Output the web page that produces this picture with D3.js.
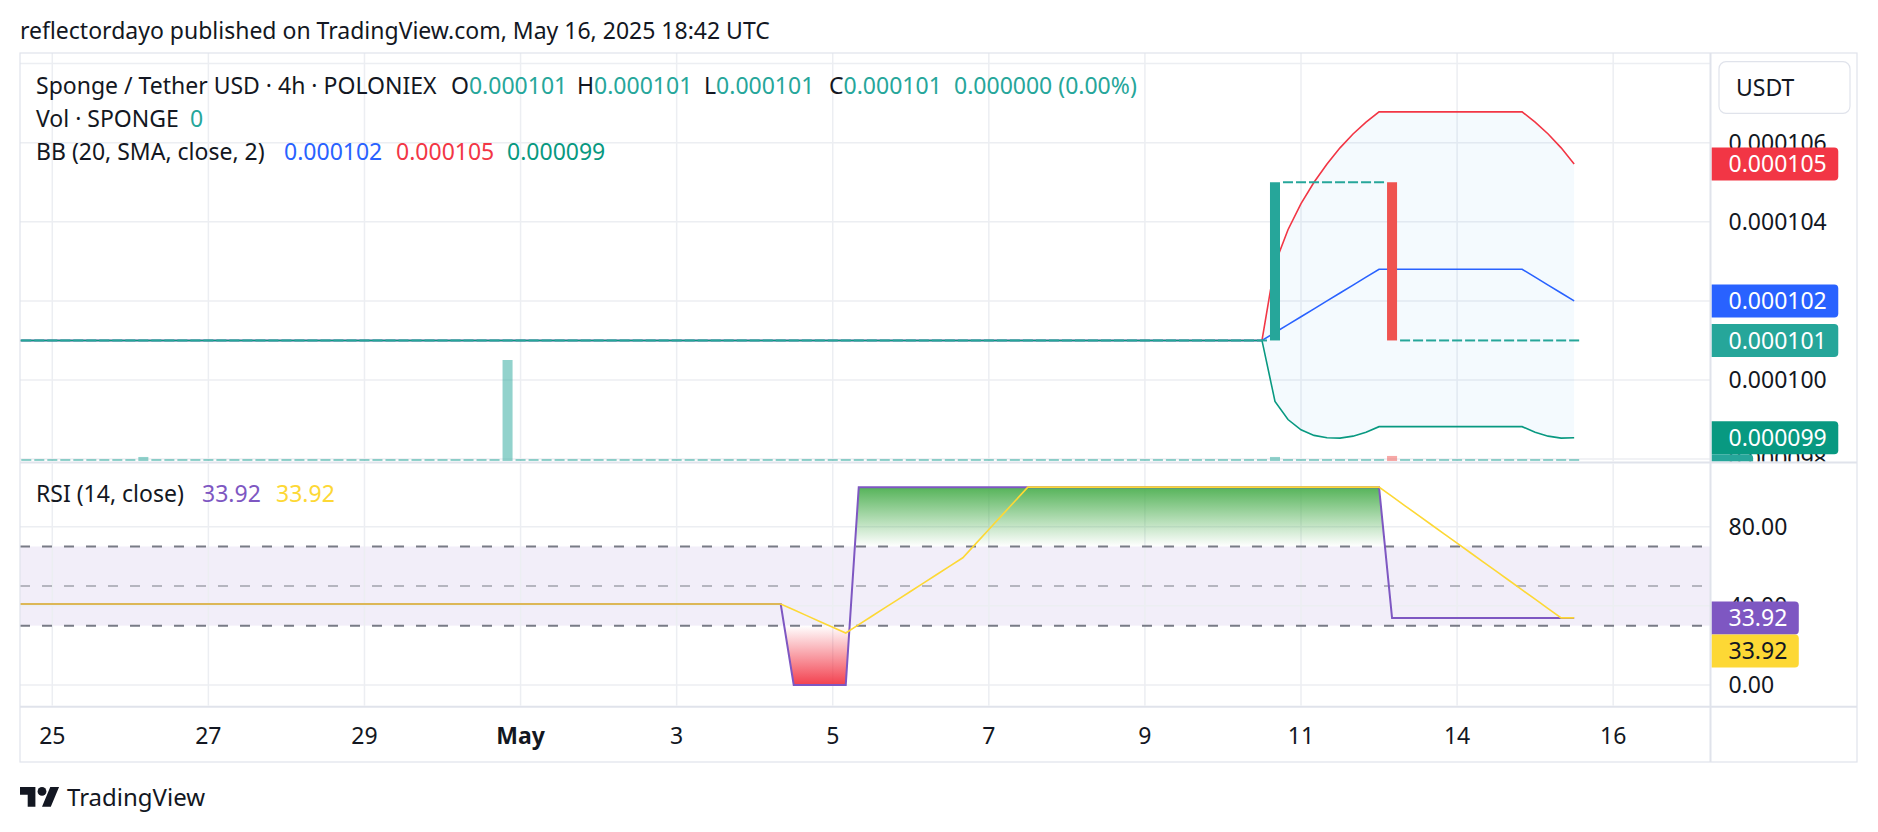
<!DOCTYPE html>
<html>
<head>
<meta charset="utf-8">
<title>Sponge / Tether USD · 4h · POLONIEX</title>
<script src="https://cdn.jsdelivr.net/npm/d3@7/dist/d3.min.js"></script>
<style>
  html, body { margin: 0; padding: 0; background: #ffffff; }
  svg { display: block; }
  text { font-family: "Noto Sans", "Open Sans", sans-serif; }
</style>
</head>
<body>
<svg id="chart" width="1878" height="832"></svg>
<script>
// ================= DATA =================
const publishedText = "reflectordayo published on TradingView.com, May 16, 2025 18:42 UTC";
const symbolTitle = "Sponge / Tether USD · 4h · POLONIEX";
const volumeTitle = "Vol · SPONGE";
const bbTitle = "BB (20, SMA, close, 2)";
const rsiTitle = "RSI (14, close)";
const currencyLabel = "USDT";
const brandText = "TradingView";

// bar index of the first element of every series (index 0 = Apr 25 00:00, 4h bars)
const firstBarIndex = -3;

const openPrice = [
0.000101,0.000101,0.000101,0.000101,0.000101,0.000101,0.000101,0.000101,0.000101,0.000101,
0.000101,0.000101,0.000101,0.000101,0.000101,0.000101,0.000101,0.000101,0.000101,0.000101,
0.000101,0.000101,0.000101,0.000101,0.000101,0.000101,0.000101,0.000101,0.000101,0.000101,
0.000101,0.000101,0.000101,0.000101,0.000101,0.000101,0.000101,0.000101,0.000101,0.000101,
0.000101,0.000101,0.000101,0.000101,0.000101,0.000101,0.000101,0.000101,0.000101,0.000101,
0.000101,0.000101,0.000101,0.000101,0.000101,0.000101,0.000101,0.000101,0.000101,0.000101,
0.000101,0.000101,0.000101,0.000101,0.000101,0.000101,0.000101,0.000101,0.000101,0.000101,
0.000101,0.000101,0.000101,0.000101,0.000101,0.000101,0.000101,0.000101,0.000101,0.000101,
0.000101,0.000101,0.000101,0.000101,0.000101,0.000101,0.000101,0.000101,0.000101,0.000101,
0.000101,0.000101,0.000101,0.000101,0.000101,0.000101,0.000101,0.000101,
0.000105,0.000105,0.000105,0.000105,0.000105,0.000105,0.000105,0.000105,0.000105,
0.000101,0.000101,0.000101,0.000101,0.000101,0.000101,0.000101,0.000101,0.000101,0.000101,
0.000101,0.000101,0.000101,0.000101
];

const closePrice = [
0.000101,0.000101,0.000101,0.000101,0.000101,0.000101,0.000101,0.000101,0.000101,0.000101,
0.000101,0.000101,0.000101,0.000101,0.000101,0.000101,0.000101,0.000101,0.000101,0.000101,
0.000101,0.000101,0.000101,0.000101,0.000101,0.000101,0.000101,0.000101,0.000101,0.000101,
0.000101,0.000101,0.000101,0.000101,0.000101,0.000101,0.000101,0.000101,0.000101,0.000101,
0.000101,0.000101,0.000101,0.000101,0.000101,0.000101,0.000101,0.000101,0.000101,0.000101,
0.000101,0.000101,0.000101,0.000101,0.000101,0.000101,0.000101,0.000101,0.000101,0.000101,
0.000101,0.000101,0.000101,0.000101,0.000101,0.000101,0.000101,0.000101,0.000101,0.000101,
0.000101,0.000101,0.000101,0.000101,0.000101,0.000101,0.000101,0.000101,0.000101,0.000101,
0.000101,0.000101,0.000101,0.000101,0.000101,0.000101,0.000101,0.000101,0.000101,0.000101,
0.000101,0.000101,0.000101,0.000101,0.000101,0.000101,0.000101,
0.000105,0.000105,0.000105,0.000105,0.000105,0.000105,0.000105,0.000105,0.000105,
0.000101,0.000101,0.000101,0.000101,0.000101,0.000101,0.000101,0.000101,0.000101,0.000101,
0.000101,0.000101,0.000101,0.000101,0.000101
];

const volume = [
0,0,0,0,0,0,0,0,0,0,
40,0,0,0,0,0,0,0,0,0,
0,0,0,0,0,0,0,0,0,0,
0,0,0,0,0,0,0,0,1000,0,
0,0,0,0,0,0,0,0,0,0,
0,0,0,0,0,0,0,0,0,0,
0,0,0,0,0,0,0,0,0,0,
0,0,0,0,0,0,0,0,0,0,
0,0,0,0,0,0,0,0,0,0,
0,0,0,0,0,0,0,40,0,0,
0,0,0,0,0,0,50,0,0,0,
0,0,0,0,0,0,0,0,0,0,
0
];

const bbBasis = [
0.000101,0.000101,0.000101,0.000101,0.000101,0.000101,0.000101,0.000101,0.000101,0.000101,
0.000101,0.000101,0.000101,0.000101,0.000101,0.000101,0.000101,0.000101,0.000101,0.000101,
0.000101,0.000101,0.000101,0.000101,0.000101,0.000101,0.000101,0.000101,0.000101,0.000101,
0.000101,0.000101,0.000101,0.000101,0.000101,0.000101,0.000101,0.000101,0.000101,0.000101,
0.000101,0.000101,0.000101,0.000101,0.000101,0.000101,0.000101,0.000101,0.000101,0.000101,
0.000101,0.000101,0.000101,0.000101,0.000101,0.000101,0.000101,0.000101,0.000101,0.000101,
0.000101,0.000101,0.000101,0.000101,0.000101,0.000101,0.000101,0.000101,0.000101,0.000101,
0.000101,0.000101,0.000101,0.000101,0.000101,0.000101,0.000101,0.000101,0.000101,0.000101,
0.000101,0.000101,0.000101,0.000101,0.000101,0.000101,0.000101,0.000101,0.000101,0.000101,
0.000101,0.000101,0.000101,0.000101,0.000101,0.000101,0.000101,
0.0001012,0.0001014,0.0001016,0.0001018,0.000102,0.0001022,0.0001024,0.0001026,
0.0001028,0.0001028,0.0001028,0.0001028,0.0001028,0.0001028,0.0001028,0.0001028,0.0001028,0.0001028,
0.0001028,0.0001028,
0.0001026,0.0001024,0.0001022,0.000102
];

const bbUpper = [
0.000101,0.000101,0.000101,0.000101,0.000101,0.000101,0.000101,0.000101,0.000101,0.000101,
0.000101,0.000101,0.000101,0.000101,0.000101,0.000101,0.000101,0.000101,0.000101,0.000101,
0.000101,0.000101,0.000101,0.000101,0.000101,0.000101,0.000101,0.000101,0.000101,0.000101,
0.000101,0.000101,0.000101,0.000101,0.000101,0.000101,0.000101,0.000101,0.000101,0.000101,
0.000101,0.000101,0.000101,0.000101,0.000101,0.000101,0.000101,0.000101,0.000101,0.000101,
0.000101,0.000101,0.000101,0.000101,0.000101,0.000101,0.000101,0.000101,0.000101,0.000101,
0.000101,0.000101,0.000101,0.000101,0.000101,0.000101,0.000101,0.000101,0.000101,0.000101,
0.000101,0.000101,0.000101,0.000101,0.000101,0.000101,0.000101,0.000101,0.000101,0.000101,
0.000101,0.000101,0.000101,0.000101,0.000101,0.000101,0.000101,0.000101,0.000101,0.000101,
0.000101,0.000101,0.000101,0.000101,0.000101,0.000101,0.000101,
0.00010294,0.0001038,0.00010446,0.000105,0.00010546,0.00010587,0.00010622,0.00010652,
0.00010678,0.00010678,0.00010678,0.00010678,0.00010678,0.00010678,0.00010678,0.00010678,0.00010678,0.00010678,
0.00010678,0.00010678,
0.00010652,0.00010622,0.00010587,0.00010546
];

const bbLower = [
0.000101,0.000101,0.000101,0.000101,0.000101,0.000101,0.000101,0.000101,0.000101,0.000101,
0.000101,0.000101,0.000101,0.000101,0.000101,0.000101,0.000101,0.000101,0.000101,0.000101,
0.000101,0.000101,0.000101,0.000101,0.000101,0.000101,0.000101,0.000101,0.000101,0.000101,
0.000101,0.000101,0.000101,0.000101,0.000101,0.000101,0.000101,0.000101,0.000101,0.000101,
0.000101,0.000101,0.000101,0.000101,0.000101,0.000101,0.000101,0.000101,0.000101,0.000101,
0.000101,0.000101,0.000101,0.000101,0.000101,0.000101,0.000101,0.000101,0.000101,0.000101,
0.000101,0.000101,0.000101,0.000101,0.000101,0.000101,0.000101,0.000101,0.000101,0.000101,
0.000101,0.000101,0.000101,0.000101,0.000101,0.000101,0.000101,0.000101,0.000101,0.000101,
0.000101,0.000101,0.000101,0.000101,0.000101,0.000101,0.000101,0.000101,0.000101,0.000101,
0.000101,0.000101,0.000101,0.000101,0.000101,0.000101,0.000101,
0.00009946,0.000099,0.00009874,0.0000986,0.00009854,0.00009853,0.00009858,0.00009868,
0.00009882,0.00009882,0.00009882,0.00009882,0.00009882,0.00009882,0.00009882,0.00009882,0.00009882,0.00009882,
0.00009882,0.00009882,
0.00009868,0.00009858,0.00009853,0.00009854
];

const rsiValues = [
40.9,40.9,40.9,40.9,40.9,40.9,40.9,40.9,40.9,40.9,
40.9,40.9,40.9,40.9,40.9,40.9,40.9,40.9,40.9,40.9,
40.9,40.9,40.9,40.9,40.9,40.9,40.9,40.9,40.9,40.9,
40.9,40.9,40.9,40.9,40.9,40.9,40.9,40.9,40.9,40.9,
40.9,40.9,40.9,40.9,40.9,40.9,40.9,40.9,40.9,40.9,
40.9,40.9,40.9,40.9,40.9,40.9,40.9,40.9,40.9,40.9,
0,0,0,0,0,
100,100,100,100,100,100,100,100,100,100,
100,100,100,100,100,100,100,100,100,100,
100,100,100,100,100,100,100,100,100,100,
100,100,100,100,100,100,100,100,100,100,
100,
33.92,33.92,33.92,33.92,33.92,33.92,33.92,33.92,33.92,33.92,
33.92,33.92,33.92,33.92,33.92
];

const rsiMA = [
40.9,40.9,40.9,40.9,40.9,40.9,40.9,40.9,40.9,40.9,
40.9,40.9,40.9,40.9,40.9,40.9,40.9,40.9,40.9,40.9,
40.9,40.9,40.9,40.9,40.9,40.9,40.9,40.9,40.9,40.9,
40.9,40.9,40.9,40.9,40.9,40.9,40.9,40.9,40.9,40.9,
40.9,40.9,40.9,40.9,40.9,40.9,40.9,40.9,40.9,40.9,
40.9,40.9,40.9,40.9,40.9,40.9,40.9,40.9,40.9,40.9,
37.98,35.06,32.14,29.21,26.29,30.51,34.74,38.96,43.18,47.40,
51.62,55.84,60.06,64.29,71.43,78.57,85.71,92.86,
100,100,100,100,100,100,100,100,100,100,
100,100,100,100,100,100,100,100,100,100,
100,100,100,100,100,100,100,100,
95.28,90.56,85.84,81.12,76.40,71.68,66.96,62.24,57.52,52.80,
48.08,43.36,38.64,33.92,33.92
];

// axis ticks
const timeTickBars   = [0, 12, 24, 36, 48, 60, 72, 84, 96, 108, 120];
const timeTickLabels = ["25", "27", "29", "May", "3", "5", "7", "9", "11", "14", "16"];
const priceGridValues  = [0.000098, 0.000100, 0.000102, 0.000104, 0.000106, 0.000108];
const priceLabelValues = [0.000098, 0.000100, 0.000102, 0.000104, 0.000106];
const rsiGridValues = [0, 40, 80];
const rsiBandLevels = [70, 50, 30];

// ================= LAYOUT / STYLE =================
const LAY = {
  left: 20, right: 1857, top: 53, bottom: 762,
  axisX: 1710.5,
  mainTop: 53, mainBottom: 461.5,
  sepMain: 462.5,
  rsiTop: 463.5, rsiBottom: 705.7,
  sepTime: 706.7,
  labelX: 1728.5, boxLeft: 1711.5, boxH: 33, boxPadR: 11.5
};
const COL = {
  text: "#131722", up: "#26a69a", down: "#ef5350", grid: "#eceef2", sep: "#e0e3eb",
  basis: "#2962ff", upper: "#f23645", lower: "#089981",
  bbFill: "rgba(33,150,243,0.05)",
  rsi: "#7e57c2", rsiMA: "#fdd835", band: "rgba(126,87,194,0.1)",
  hline: "#787b86", hlineMid: "rgba(120,123,134,0.5)",
  obColor: "#4caf50", osColor: "#f23645"
};
const FS = 23;

// ================= DRAWING =================
const svg = d3.select("#chart");
const fmtP = d3.format(".6f");
const fmtR = d3.format(".2f");

const bars = closePrice.map((c, k) => ({
  i: firstBarIndex + k, o: openPrice[k], c: c, v: volume[k],
  up: bbUpper[k], mid: bbBasis[k], lo: bbLower[k], r: rsiValues[k], ma: rsiMA[k]
}));
const last = bars[bars.length - 1];
const prev = bars[bars.length - 2];

// scales (calibrated to the reference layout)
const x  = d3.scaleLinear().domain([0, 96]).range([52.3, 1301]);
const yP = d3.scaleLinear().domain([0.000100, 0.000104]).range([380, 221.8]);
const yR = d3.scaleLinear().domain([0, 80]).range([685, 526.7]);
const yV = d3.scaleLinear().domain([0, d3.max(volume)]).range([LAY.mainBottom - 0.5, 360]);
const step = x(1) - x(0);
const bodyW = step * 0.77;

svg.append("rect").attr("width", 1878).attr("height", 832).attr("fill", "#fff");

const defs = svg.append("defs");
function clip(id, x0, y0, x1, y1) {
  defs.append("clipPath").attr("id", id).append("rect")
    .attr("x", x0).attr("y", y0).attr("width", x1 - x0).attr("height", y1 - y0);
}
clip("cMain", LAY.left, LAY.mainTop, LAY.axisX, LAY.mainBottom);
clip("cRsi", LAY.left, LAY.rsiTop, LAY.axisX, LAY.rsiBottom);
clip("cMainAxis", LAY.axisX, LAY.mainTop, LAY.right, LAY.mainBottom);
clip("cRsiAxis", LAY.axisX, LAY.rsiTop, LAY.right, LAY.rsiBottom);

const grad = defs.append("linearGradient").attr("id", "rsiGrad")
  .attr("gradientUnits", "userSpaceOnUse")
  .attr("x1", 0).attr("x2", 0).attr("y1", yR(100)).attr("y2", yR(0));
[[0, COL.obColor, 0.95], [0.3, COL.obColor, 0], [0.7, COL.osColor, 0], [1, COL.osColor, 0.95]]
  .forEach(s => grad.append("stop").attr("offset", s[0]).attr("stop-color", s[1]).attr("stop-opacity", s[2]));

// title
svg.append("text").attr("x", 20).attr("y", 38.5).attr("font-size", FS).attr("fill", COL.text)
  .text(publishedText);

// ---------- main pane ----------
const gMain = svg.append("g").attr("clip-path", "url(#cMain)");
const ticksVisible = timeTickBars.map((b, k) => ({ b, label: timeTickLabels[k] }))
  .filter(t => x(t.b) > LAY.left && x(t.b) < LAY.axisX);

gMain.selectAll("line.vg").data(ticksVisible).join("line")
  .attr("x1", d => x(d.b)).attr("x2", d => x(d.b))
  .attr("y1", LAY.mainTop).attr("y2", LAY.mainBottom)
  .attr("stroke", COL.grid).attr("stroke-width", 1.5);
gMain.selectAll("line.hg").data(priceGridValues).join("line")
  .attr("x1", LAY.left).attr("x2", LAY.axisX)
  .attr("y1", d => yP(d)).attr("y2", d => yP(d))
  .attr("stroke", COL.grid).attr("stroke-width", 1.5);

// BB background
gMain.append("path").datum(bars)
  .attr("d", d3.area().x(d => x(d.i)).y0(d => yP(d.lo)).y1(d => yP(d.up)))
  .attr("fill", COL.bbFill);

// volume
gMain.selectAll("rect.vol").data(bars).join("rect")
  .attr("x", d => x(d.i) - bodyW / 2).attr("width", bodyW)
  .attr("y", d => Math.min(yV(d.v), yV(0) - 2))
  .attr("height", d => Math.max(2, yV(0) - yV(d.v)))
  .attr("fill", d => d.c >= d.o ? COL.up : COL.down)
  .attr("fill-opacity", 0.5);

// BB lines
[["up", COL.upper], ["mid", COL.basis], ["lo", COL.lower]].forEach(([k, c]) => {
  gMain.append("path").datum(bars)
    .attr("d", d3.line().x(d => x(d.i)).y(d => yP(d[k])))
    .attr("fill", "none").attr("stroke", c).attr("stroke-width", 1.6);
});

// candles
gMain.selectAll("rect.candle").data(bars).join("rect")
  .attr("x", d => x(d.i) - bodyW / 2).attr("width", bodyW)
  .attr("y", d => {
    const h = Math.abs(yP(d.o) - yP(d.c));
    return h < 2 ? yP(d.c) - 1 : Math.min(yP(d.o), yP(d.c));
  })
  .attr("height", d => Math.max(2, Math.abs(yP(d.o) - yP(d.c))))
  .attr("fill", d => d.c >= d.o ? COL.up : COL.down);

// ---------- RSI pane ----------
const gRsi = svg.append("g").attr("clip-path", "url(#cRsi)");
gRsi.append("rect").attr("x", LAY.left).attr("width", LAY.axisX - LAY.left)
  .attr("y", yR(70)).attr("height", yR(30) - yR(70)).attr("fill", COL.band);
gRsi.selectAll("line.vg").data(ticksVisible).join("line")
  .attr("x1", d => x(d.b)).attr("x2", d => x(d.b))
  .attr("y1", LAY.rsiTop).attr("y2", LAY.rsiBottom)
  .attr("stroke", COL.grid).attr("stroke-width", 1.5);
gRsi.selectAll("line.hg").data(rsiGridValues).join("line")
  .attr("x1", LAY.left).attr("x2", LAY.axisX)
  .attr("y1", d => yR(d)).attr("y2", d => yR(d))
  .attr("stroke", COL.grid).attr("stroke-width", 1.5);

gRsi.append("path").datum(bars)
  .attr("d", d3.area().x(d => x(d.i)).y0(yR(50)).y1(d => yR(d.r)))
  .attr("fill", "url(#rsiGrad)");

gRsi.selectAll("line.band").data(rsiBandLevels).join("line")
  .attr("x1", LAY.left).attr("x2", LAY.axisX)
  .attr("y1", d => yR(d)).attr("y2", d => yR(d))
  .attr("stroke", d => d === 50 ? COL.hlineMid : COL.hline)
  .attr("stroke-width", 2).attr("stroke-dasharray", "10 12");

gRsi.append("path").datum(bars)
  .attr("d", d3.line().x(d => x(d.i)).y(d => yR(d.r)))
  .attr("fill", "none").attr("stroke", COL.rsi).attr("stroke-width", 2);
gRsi.append("path").datum(bars)
  .attr("d", d3.line().x(d => x(d.i)).y(d => yR(d.ma)))
  .attr("fill", "none").attr("stroke", COL.rsiMA).attr("stroke-width", 1.6);

// ---------- legends ----------
function legend(y, groups) {
  groups.forEach(g => {
    const t = svg.append("text").attr("x", g.x).attr("y", y).attr("font-size", FS);
    g.parts.forEach(p => t.append("tspan").attr("fill", p[1]).text(p[0]));
  });
}
const chg = last.c - prev.c;
const chgPct = prev.c ? chg / prev.c * 100 : 0;
legend(93.5, [
  { x: 36, parts: [[symbolTitle, COL.text]] },
  { x: 451, parts: [["O", COL.text], [fmtP(last.o), COL.up]] },
  { x: 577, parts: [["H", COL.text], [fmtP(Math.max(last.o, last.c)), COL.up]] },
  { x: 704, parts: [["L", COL.text], [fmtP(Math.min(last.o, last.c)), COL.up]] },
  { x: 829, parts: [["C", COL.text], [fmtP(last.c), COL.up]] },
  { x: 954, parts: [[fmtP(chg) + " (" + fmtR(chgPct) + "%)", COL.up]] }
]);
legend(126.5, [
  { x: 36, parts: [[volumeTitle, COL.text]] },
  { x: 190, parts: [[d3.format(",")(last.v), COL.up]] }
]);
legend(160, [
  { x: 36, parts: [[bbTitle, COL.text]] },
  { x: 284, parts: [[fmtP(last.mid), COL.basis]] },
  { x: 396, parts: [[fmtP(last.up), COL.upper]] },
  { x: 507, parts: [[fmtP(last.lo), COL.lower]] }
]);
legend(502, [
  { x: 36, parts: [[rsiTitle, COL.text]] },
  { x: 202, parts: [[fmtR(last.r), COL.rsi]] },
  { x: 276, parts: [[fmtR(last.ma), COL.rsiMA]] }
]);

// ---------- price axis ----------
const gMA = svg.append("g").attr("clip-path", "url(#cMainAxis)");
gMA.selectAll("text.tick").data(priceLabelValues).join("text")
  .attr("x", LAY.labelX).attr("y", d => yP(d) + 8.2)
  .attr("font-size", FS).attr("fill", COL.text).text(d => fmtP(d));

function boxPath(x0, x1, yTop, h, r) {
  return `M${x0},${yTop}H${x1 - r}Q${x1},${yTop} ${x1},${yTop + r}V${yTop + h - r}Q${x1},${yTop + h} ${x1 - r},${yTop + h}H${x0}Z`;
}
function drawLabels(g, labels) {
  labels.sort((a, b) => a.y - b.y);
  for (let k = 1; k < labels.length; k++) {
    if (labels[k].y < labels[k - 1].y + LAY.boxH) labels[k].y = labels[k - 1].y + LAY.boxH;
  }
  labels.forEach(l => {
    const p = g.append("path").attr("fill", l.fill);
    const t = g.append("text").attr("x", LAY.labelX).attr("y", l.y + 8.2)
      .attr("font-size", FS).attr("fill", l.color).text(l.text);
    const w = t.node().getComputedTextLength();
    p.attr("d", boxPath(LAY.boxLeft, LAY.labelX + w + LAY.boxPadR, l.y - LAY.boxH / 2, LAY.boxH, 4));
  });
}
drawLabels(gMA, [
  { y: yP(last.up), fill: COL.upper, color: "#fff", text: fmtP(last.up) },
  { y: yP(last.mid), fill: COL.basis, color: "#fff", text: fmtP(last.mid) },
  { y: yP(last.c), fill: COL.up, color: "#fff", text: fmtP(last.c) },
  { y: yP(last.lo), fill: COL.lower, color: "#fff", text: fmtP(last.lo) },
  { y: yV(last.v), fill: COL.up, color: "#fff", text: d3.format(",")(last.v) }
]);

// currency box
svg.append("rect").attr("x", 1719).attr("y", 61.7).attr("width", 131).attr("height", 51.6)
  .attr("rx", 7).attr("fill", "#fff").attr("stroke", COL.sep).attr("stroke-width", 1.2);
svg.append("text").attr("x", 1736).attr("y", 95.7).attr("font-size", FS).attr("fill", COL.text)
  .text(currencyLabel);

// ---------- RSI axis ----------
const gRA = svg.append("g").attr("clip-path", "url(#cRsiAxis)");
gRA.selectAll("text.tick").data(rsiGridValues).join("text")
  .attr("x", LAY.labelX).attr("y", d => yR(d) + 8.2)
  .attr("font-size", FS).attr("fill", COL.text).text(d => fmtR(d));
drawLabels(gRA, [
  { y: yR(last.r), fill: COL.rsi, color: "#fff", text: fmtR(last.r) },
  { y: yR(last.ma) + 0.001, fill: COL.rsiMA, color: COL.text, text: fmtR(last.ma) }
]);

// ---------- time axis ----------
svg.selectAll("text.time").data(ticksVisible).join("text")
  .attr("x", d => x(d.b)).attr("y", 743.5).attr("text-anchor", "middle")
  .attr("font-size", FS).attr("font-weight", d => isNaN(+d.label) ? 700 : 400)
  .attr("fill", COL.text).text(d => d.label);

// ---------- separators & frame ----------
svg.append("line").attr("x1", LAY.left).attr("x2", LAY.right).attr("y1", LAY.sepMain).attr("y2", LAY.sepMain)
  .attr("stroke", COL.sep).attr("stroke-width", 2);
svg.append("line").attr("x1", LAY.left).attr("x2", LAY.right).attr("y1", LAY.sepTime).attr("y2", LAY.sepTime)
  .attr("stroke", COL.sep).attr("stroke-width", 2);
svg.append("line").attr("x1", LAY.axisX).attr("x2", LAY.axisX).attr("y1", LAY.top).attr("y2", LAY.bottom)
  .attr("stroke", COL.sep).attr("stroke-width", 2);
svg.append("rect").attr("x", LAY.left).attr("y", LAY.top)
  .attr("width", LAY.right - LAY.left).attr("height", LAY.bottom - LAY.top)
  .attr("fill", "none").attr("stroke", COL.sep).attr("stroke-width", 1.2);

// ---------- brand ----------
const gLogo = svg.append("g").attr("transform", "translate(20,782.6) scale(1.1)").attr("fill", COL.text);
gLogo.append("path").attr("d", "M14 22H7V11H0V4h14v18zM28 22h-8l7.5-18h8L28 22z");
gLogo.append("circle").attr("cx", 20).attr("cy", 8).attr("r", 4);
svg.append("text").attr("x", 67).attr("y", 806).attr("font-size", 24).attr("fill", COL.text).text(brandText);
</script>
</body>
</html>
